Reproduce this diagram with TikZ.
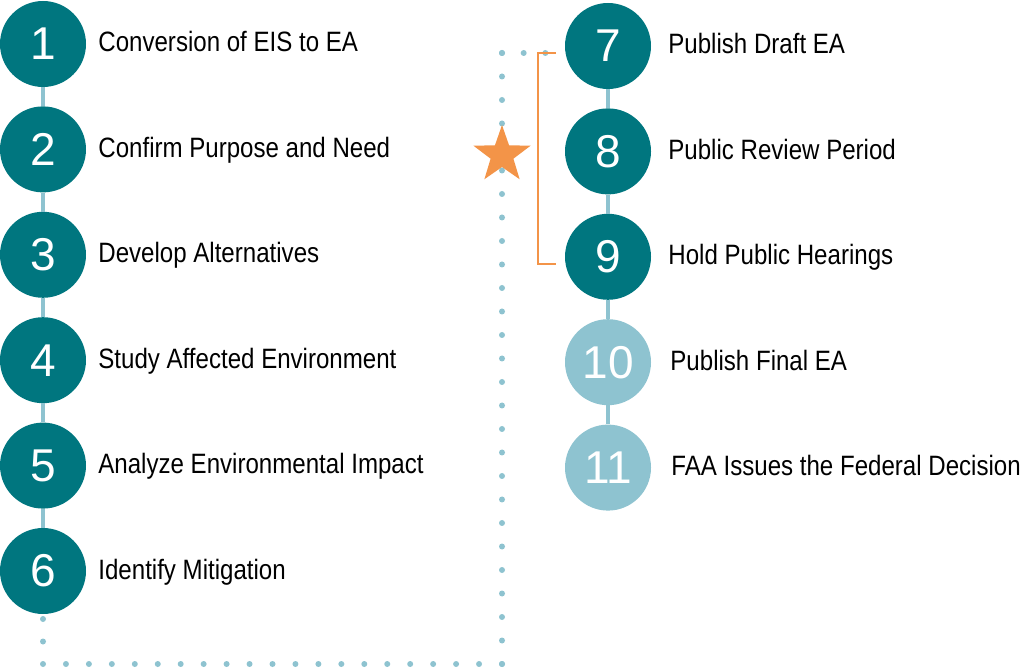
\documentclass[tikz,border=0pt]{standalone}
\usepackage{fontspec}
\setmainfont[FakeStretch=0.86]{Liberation Sans}
\newfontfamily\numfont{Liberation Sans}
\usetikzlibrary{positioning,shapes.geometric}
\definecolor{tealdark}{HTML}{00767F}
\definecolor{teallight}{HTML}{8EC3D0}
\definecolor{starorange}{HTML}{F39448}

\begin{document}
\begin{tikzpicture}[x=1pt, y=1pt, node distance=19pt,
    stepdone/.style = {circle, fill=tealdark, minimum size=86pt, inner sep=0pt, text=white, font=\numfont\fontsize{46}{50}\selectfont},
    stepnext/.style = {stepdone, fill=teallight},
    label/.style = {inner sep=0pt, anchor=west, yshift=2pt, text height=20pt, text depth=0pt, font=\fontsize{28}{32}\selectfont},
    link/.style = {line width=4pt, draw=teallight},
    dotline/.style = {line width=6pt, draw=teallight, line cap=round, dash pattern=on 0pt off #1},
    bracket/.style = {line width=2pt, draw=starorange}
]
\useasboundingbox (0,0) rectangle (1024,669);

% Steps
\node (n1) [stepdone] at (43,625) {1};
\node (n2) [stepdone, below=of n1] {2};
\node (n3) [stepdone, below=of n2] {3};
\node (n4) [stepdone, below=of n3] {4};
\node (n5) [stepdone, below=of n4] {5};
\node (n6) [stepdone, below=of n5] {6};

\node (n7) [stepdone] at (608,623) {7};
\node (n8) [stepdone, below=of n7] {8};
\node (n9) [stepdone, below=of n8] {9};
\node (n10) [stepnext, below=of n9] {10};
\node (n11) [stepnext, below=of n10] {11};

% Labels
\node (t1) [label, right=12pt of n1] {Conversion of EIS to EA};
\node (t2) [label, right=12pt of n2] {Confirm Purpose and Need};
\node (t3) [label, right=12pt of n3] {Develop Alternatives};
\node (t4) [label, right=12pt of n4] {Study Affected Environment};
\node (t5) [label, right=12pt of n5] {Analyze Environmental Impact};
\node (t6) [label, right=12pt of n6] {Identify Mitigation};
\node (t7) [label, right=17pt of n7] {Publish Draft EA};
\node (t8) [label, right=17pt of n8] {Public Review Period};
\node (t9) [label, right=17pt of n9] {Hold Public Hearings};
\node (t10) [label, right=19pt of n10] {Publish Final EA};
\node (t11) [label, right=20pt of n11] {FAA Issues the Federal Decision};

% Links
\draw [link] (n1) -- (n2);
\draw [link] (n2) -- (n3);
\draw [link] (n3) -- (n4);
\draw [link] (n4) -- (n5);
\draw [link] (n5) -- (n6);
\draw [link] (n7) -- (n8);
\draw [link] (n8) -- (n9);
\draw [link] (n9) -- (n10);
\draw [link] (n10) -- (n11);

% Dotted route
\coordinate (d1) at (43,50);
\coordinate (d2) at (43,5);
\coordinate (d3) at (502,5);
\coordinate (d4) at (502,616);
\coordinate (d5) at (567,616);
\draw [dotline=22.5pt] (d1) -- (d2);
\draw [dotline=22.95pt] (d2) -- (d3);
\draw [dotline=23.5pt] (d3) -- (d4);
\draw [dotline=21.67pt] (d4) -- (d5);

% Bracket and star
\coordinate (b1) at (556,616);
\coordinate (b2) at (556,405);
\draw [bracket] (b1) -- ++(-18,0) |- (b2);
\node (star) [star, star points=5, star point ratio=2.5, fill=starorange, minimum size=60pt, inner sep=0pt] at (502,514) {};

\end{tikzpicture}
\end{document}
